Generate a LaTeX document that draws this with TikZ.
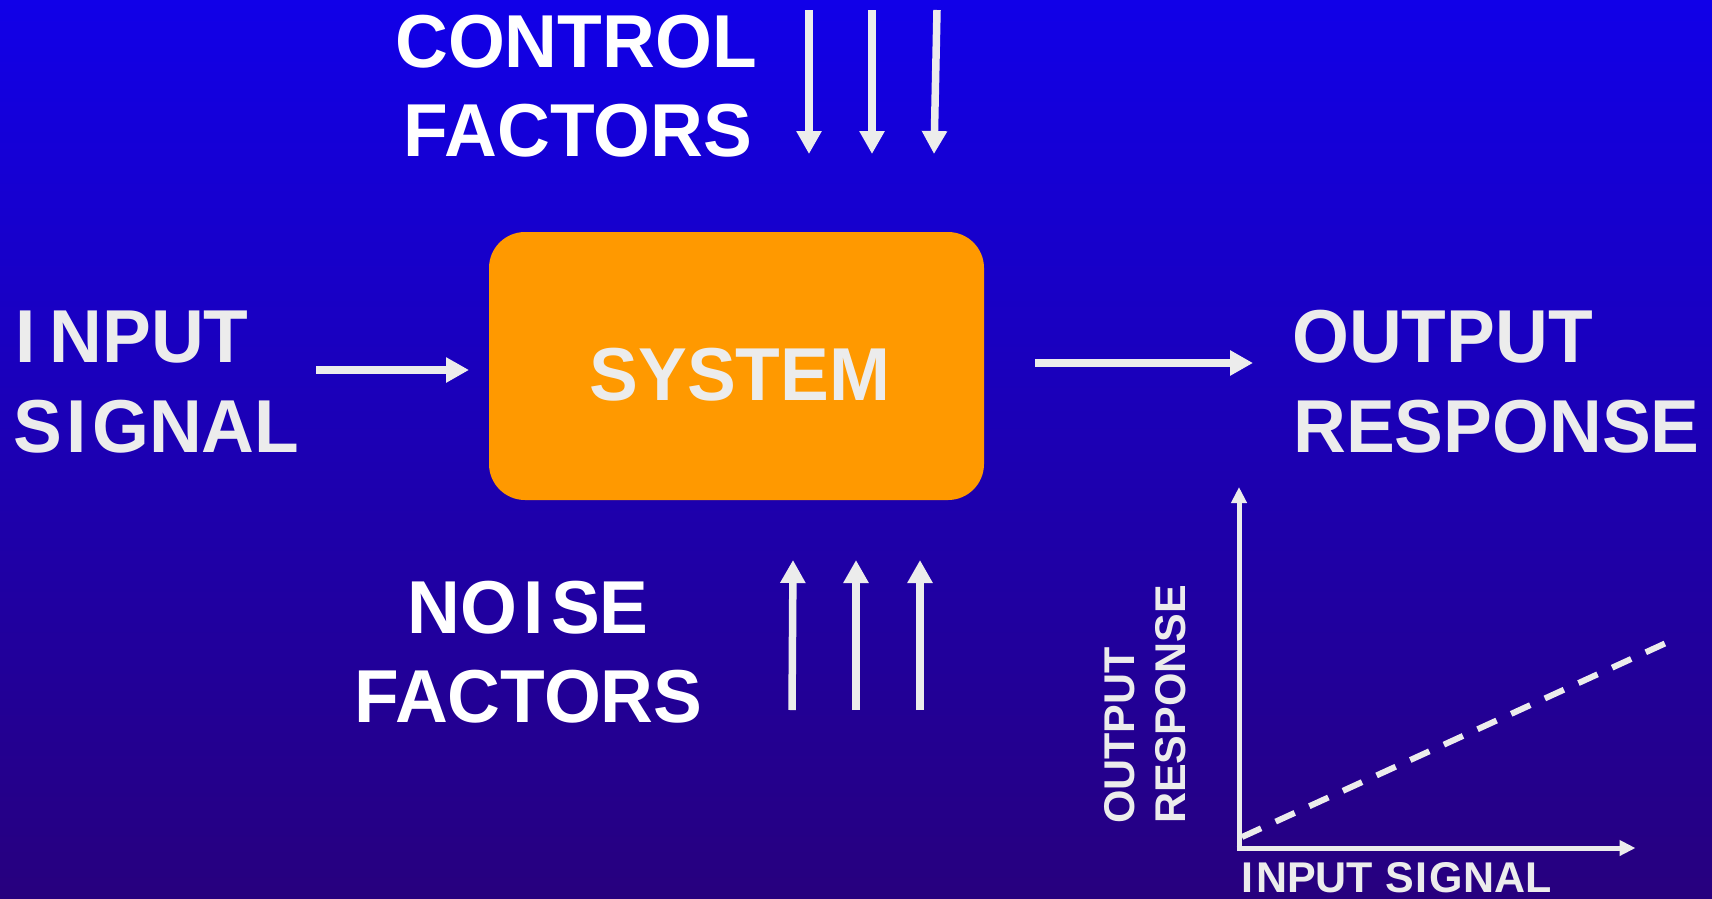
\documentclass[tikz,border=0pt]{standalone}
\usepackage{fontspec}
\setmainfont{Liberation Sans}
\newfontfamily\bigfont{Liberation Sans}[FakeStretch=0.975]
\usetikzlibrary{arrows.meta}
\definecolor{bgtop}{RGB}{17,0,232}
\definecolor{bgbot}{RGB}{39,0,126}
\definecolor{sysorange}{RGB}{255,153,0}
\definecolor{ltgrey}{RGB}{236,236,236}
\begin{document}
\begin{tikzpicture}[x=1pt,y=-1pt,
  bigtext/.style={font=\fontsize{75}{75}\bigfont\bfseries, inner sep=0pt, text=ltgrey},
  whitetext/.style={bigtext, text=white},
  smalltext/.style={font=\fontsize{43}{43}\selectfont\bfseries, inner sep=0pt, text=ltgrey},
  bigarrow/.style={draw=ltgrey, line width=7.5pt, -{Triangle[length=23pt,width=24pt]}},
  axisarrow/.style={draw=ltgrey, line width=5pt, -{Triangle[length=16pt,width=15pt]}},
  trendline/.style={draw=ltgrey, line width=6pt, dash pattern=on 21pt off 16pt},
  sysbox/.style={fill=sysorange, draw=none, rounded corners=36pt, minimum width=495pt, minimum height=268pt, inner sep=0pt}]
\useasboundingbox (0,0) rectangle (1712,898);
\shade[top color=bgtop, bottom color=bgbot] (0,0) rectangle (1712,898);

% system box
\node[sysbox] (sys) at (736.5,366) {};
\node[bigtext, anchor=base] (systxt) at (740,400) {SYSTEM};

% control factors
\node[whitetext, anchor=base] (ctl1) at (576,67) {CONTROL};
\node[whitetext, anchor=base] (ctl2) at (578,156) {FACTORS};
\coordinate (c1s) at (809,10);  \coordinate (c1e) at (809,154);
\coordinate (c2s) at (872,10);  \coordinate (c2e) at (872,154);
\coordinate (c3s) at (937,10);  \coordinate (c3e) at (934,154);
\draw[bigarrow] (c1s) -- (c1e);
\draw[bigarrow] (c2s) -- (c2e);
\draw[bigarrow] (c3s) -- (c3e);

% input signal
\node[bigtext, anchor=base west] (in1) at (15,362) {I\kern14pt NPUT};
\node[bigtext, anchor=base west] (in2) at (13,452) {S\kern5pt I\kern5pt GNAL};
\coordinate (ias) at (316,370); \coordinate (iae) at (469,370);
\draw[bigarrow] (ias) -- (iae);

% output response
\node[bigtext, anchor=base west] (out1) at (1292,362) {OUTPUT};
\node[bigtext, anchor=base west] (out2) at (1293,452) {RESPONSE};
\coordinate (oas) at (1035,363); \coordinate (oae) at (1253,363);
\draw[bigarrow] (oas) -- (oae);

% noise factors
\node[whitetext, anchor=base] (nz1) at (528,633) {NO\kern7pt I\kern7pt SE};
\node[whitetext, anchor=base] (nz2) at (528.5,722) {FACTORS};
\coordinate (n1s) at (792,710); \coordinate (n1e) at (793,560);
\coordinate (n2s) at (856,710); \coordinate (n2e) at (856,560);
\coordinate (n3s) at (920,710); \coordinate (n3e) at (920,560);
\draw[bigarrow] (n1s) -- (n1e);
\draw[bigarrow] (n2s) -- (n2e);
\draw[bigarrow] (n3s) -- (n3e);

% graph
\coordinate (origin) at (1239,848);
\coordinate (ybot) at (1239,850.5);
\coordinate (ytop) at (1239,487);
\coordinate (xleft) at (1236.5,848);
\coordinate (xright) at (1635.5,848);
\draw[axisarrow] (ybot) -- (ytop);
\draw[axisarrow] (xleft) -- (xright);
\coordinate (ts) at (1242,837); \coordinate (te) at (1666,643);
\draw[trendline] (ts) -- (te);
\node[smalltext, rotate=90, anchor=base west] (gy1) at (1134,824) {OUTPUT};
\node[smalltext, rotate=90, anchor=base west] (gy2) at (1185,824) {RESPONSE};
\node[smalltext, anchor=base west] (gx) at (1241,892) {I\kern3pt NPUT S\kern2pt I\kern2pt GNAL};
\end{tikzpicture}
\end{document}
